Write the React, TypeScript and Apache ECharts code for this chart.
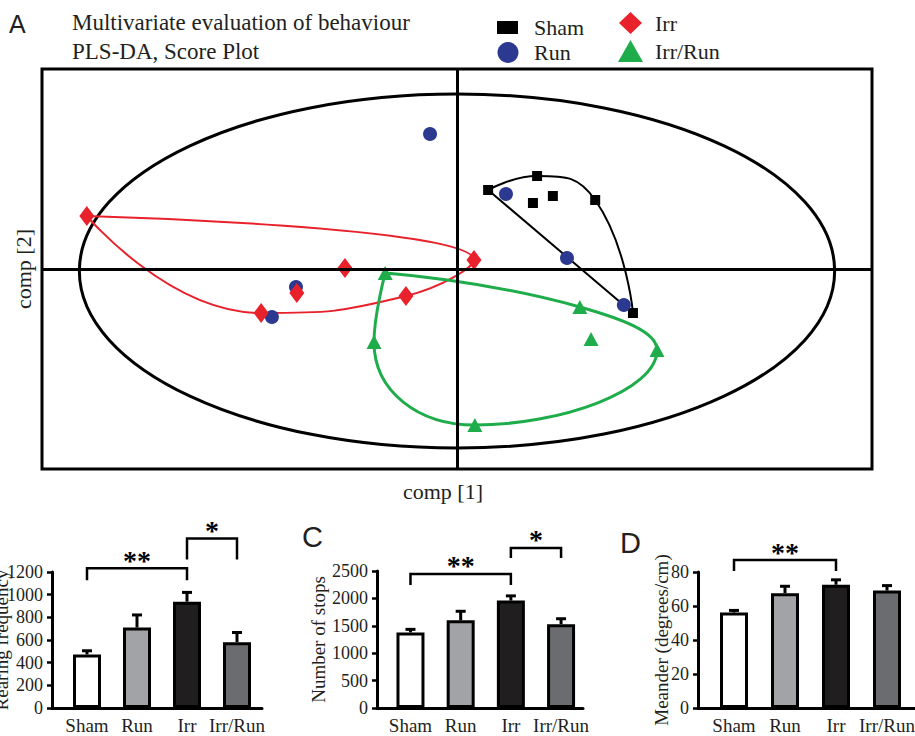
import React, { useEffect, useRef } from 'react';
import * as echarts from 'echarts';

// ---------- Panel A: PLS-DA score plot (comp[1], comp[2]) ----------
const SHAM_SCORES = [[0.75, 3.95], [1.93, 4.65], [1.83, 3.3], [2.31, 3.65], [3.33, 3.45], [4.24, -2.2]];
const RUN_SCORES = [[-0.65, 6.75], [1.18, 3.75], [2.65, 0.55], [4.02, -1.8], [-3.88, -0.9], [-4.46, -2.4]];
const IRR_SCORES = [[-8.92, 2.65], [0.41, 0.45], [-2.7, 0.05], [-3.86, -1.2], [-1.23, -1.35], [-4.72, -2.2]];
const IRRRUN_SCORES = [[-1.73, -0.2], [2.96, -1.9], [3.23, -3.5], [4.82, -4.05], [0.43, -7.8], [-2.0, -3.65]];
// order of the points that the group outlines pass through
const SHAM_HULL = [0, 1, 4, 5, 0];
const IRR_HULL = [0, 1, 4, 5, 0];
const IRRRUN_HULL = [0, 1, 3, 4, 5, 0];
// Hotelling T2 ellipse: centre x, centre y, semi-axis x, semi-axis y
const T2_ELLIPSE = [0, -0.1, 9.1, 8.85];
const SCORE_RANGE = [-10, 10];

// ---------- Panels B, C, D ----------
const CATS = ['Sham', 'Run', 'Irr', 'Irr/Run'];
const REARING_MEAN = [473, 710, 938, 581];
const REARING_SEM = [32, 111, 82, 85];
const STOPS_MEAN = [1380, 1600, 1960, 1530];
const STOPS_SEM = [55, 165, 86, 99];
const MEANDER_MEAN = [56.2, 67.5, 72.5, 69.1];
const MEANDER_SEM = [1.2, 4.1, 2.9, 2.9];
const REARING_TICKS = [0, 1200, 200];
const STOPS_TICKS = [0, 2500, 500];
const MEANDER_TICKS = [0, 80, 20];
// significance brackets: [from group, to group, bracket top, leg end]
const REARING_SIG = [[0, 2, 1232, 1127], [2, 3, 1496, 1311]];
const REARING_SIG_LABELS = ['**', '*'];
const STOPS_SIG = [[0, 2, 2446, 2245], [2, 3, 2920, 2738]];
const STOPS_SIG_LABELS = ['**', '*'];
const MEANDER_SIG = [[0, 2, 87, 80.6]];
const MEANDER_SIG_LABELS = ['**'];

const SERIF = 'Liberation Serif';
const SANS = 'Liberation Sans';
const INK = '#231f20';
const BAR_COLORS = ['#ffffff', '#a2a3a6', '#211e1f', '#6b6c6f'];

function buildPanel(k: number, xr: number[], ticks: number[], name: string, nameGap: number,
  mean: number[], sem: number[], sig: number[][], sigLabels: string[]) {
  const xAxis = {
    type: 'value', gridIndex: k, min: xr[0], max: xr[1],
    axisLine: { show: true, onZero: false, lineStyle: { color: '#000', width: 3 } },
    axisTick: { show: false }, splitLine: { show: false },
    axisLabel: {
      margin: 8, fontSize: 19, fontFamily: SERIF, color: INK,
      formatter: (v: number) => {
        const i = Math.round(v);
        return Math.abs(v - i) < 1e-6 && i >= 1 && i <= CATS.length ? CATS[i - 1] : '';
      },
    },
  };
  const yAxis = {
    type: 'value', gridIndex: k, min: ticks[0], max: ticks[1], interval: ticks[2],
    name, nameLocation: 'middle', nameRotate: 90, nameGap, nameMoveOverlap: false,
    nameTextStyle: { fontSize: 19, fontFamily: SERIF, color: INK },
    axisLine: { show: true, lineStyle: { color: '#000', width: 3 } },
    axisTick: { show: true, length: 5, lineStyle: { color: '#000', width: 2.5 } },
    splitLine: { show: false },
    axisLabel: { margin: 9, fontSize: 18, fontFamily: SERIF, color: INK, formatter: (v: number) => String(v) },
  };
  const series = [
    {
      type: 'bar', xAxisIndex: k, yAxisIndex: k, barWidth: 28, silent: true,
      itemStyle: { borderColor: '#000', borderWidth: 3 },
      data: mean.map((v, i) => ({ value: [i + 1, v], itemStyle: { color: BAR_COLORS[i] } })),
      z: 2,
    },
    {
      type: 'custom', xAxisIndex: k, yAxisIndex: k, silent: true, clip: false, z: 3,
      data: mean.map((v, i) => [i + 1, v, sem[i]]),
      renderItem: (params: any, api: any) => {
        const x = api.value(0), m = api.value(1), s = api.value(2);
        const p0 = api.coord([x, m]);
        const p1 = api.coord([x, m + s]);
        const st = { stroke: '#000', lineWidth: 3, fill: 'none' };
        return {
          type: 'group', children: [
            { type: 'line', shape: { x1: p0[0], y1: p0[1], x2: p1[0], y2: p1[1] }, style: st },
            { type: 'line', shape: { x1: p1[0] - 5, y1: p1[1], x2: p1[0] + 5, y2: p1[1] }, style: st },
          ],
        };
      },
    },
    {
      type: 'custom', xAxisIndex: k, yAxisIndex: k, silent: true, clip: false, z: 3,
      data: sig.map((s) => [s[0] + 1, s[2], s[1] + 1, s[3]]),
      renderItem: (params: any, api: any) => {
        const x1 = api.value(0), top = api.value(1), x2 = api.value(2), end = api.value(3);
        const a = api.coord([x1, end]);
        const b = api.coord([x1, top]);
        const c = api.coord([x2, top]);
        const d = api.coord([x2, end]);
        return {
          type: 'group', children: [
            {
              type: 'polyline',
              shape: { points: [a, b, c, d] },
              style: { stroke: '#000', lineWidth: 2.5, fill: 'none' },
            },
            {
              type: 'text', x: (b[0] + c[0]) / 2, y: b[1] - 8,
              style: {
                text: sigLabels[params.dataIndex], fill: '#000', fontSize: 28, fontWeight: 'bold',
                fontFamily: SERIF, align: 'center', verticalAlign: 'middle',
                textAlign: 'center', textVerticalAlign: 'middle',
              },
            },
          ],
        };
      },
    },
  ];
  return { xAxis, yAxis, series };
}

function hullLine(points: number[][], order: number[], color: string, width: number) {
  return {
    type: 'line', xAxisIndex: 0, yAxisIndex: 0, silent: true, smooth: 0.5,
    symbol: 'none', z: 2,
    lineStyle: { color, width },
    data: order.map((i) => points[i]),
  };
}

function buildOption() {
  const pB = buildPanel(1, [0.3, 4.5], REARING_TICKS, 'Rearing frequency', 41,
    REARING_MEAN, REARING_SEM, REARING_SIG, REARING_SIG_LABELS);
  const pC = buildPanel(2, [0.333, 4.437], STOPS_TICKS, 'Number of stops', 49,
    STOPS_MEAN, STOPS_SEM, STOPS_SIG, STOPS_SIG_LABELS);
  const pD = buildPanel(3, [0.294, 4.549], MEANDER_TICKS, 'Meander (degrees/cm)', 27,
    MEANDER_MEAN, MEANDER_SEM, MEANDER_SIG, MEANDER_SIG_LABELS);

  const legendText = (pad: number) => ({
    fontSize: 22, fontFamily: SERIF, color: INK, padding: [0, 0, 0, pad],
  });

  return {
    animation: false,
    textStyle: { fontFamily: SERIF },
    grid: [
      { left: 42, top: 69, width: 830, height: 400, show: true, borderColor: '#000', borderWidth: 3, backgroundColor: 'transparent', outerBoundsMode: 'none', containLabel: false },
      { left: 52, top: 572, width: 210, height: 136, outerBoundsMode: 'none', containLabel: false },
      { left: 377, top: 571, width: 206, height: 137, outerBoundsMode: 'none', containLabel: false },
      { left: 698, top: 572, width: 217, height: 136, outerBoundsMode: 'none', containLabel: false },
    ],
    legend: [
      { data: [{ name: 'Sham' }], left: 497, top: 16.5, padding: 0, itemWidth: 21, itemHeight: 13, selectedMode: false, textStyle: legendText(11) },
      { data: [{ name: 'Run' }], left: 497.5, top: 41.5, padding: 0, itemWidth: 21, itemHeight: 21, selectedMode: false, textStyle: legendText(10.5) },
      { data: [{ name: 'Irr' }], left: 619, top: 12, padding: 0, itemWidth: 23, itemHeight: 22, selectedMode: false, textStyle: legendText(8) },
      { data: [{ name: 'Irr/Run' }], left: 618, top: 40, padding: 0, itemWidth: 25, itemHeight: 22, selectedMode: false, textStyle: legendText(7) },
    ],
    xAxis: [
      {
        type: 'value', gridIndex: 0, min: SCORE_RANGE[0], max: SCORE_RANGE[1],
        axisLine: { show: false }, axisTick: { show: false }, axisLabel: { show: false }, splitLine: { show: false },
      },
      pB.xAxis, pC.xAxis, pD.xAxis,
    ],
    yAxis: [
      {
        type: 'value', gridIndex: 0, min: SCORE_RANGE[0], max: SCORE_RANGE[1],
        name: 'comp [2]', nameLocation: 'middle', nameRotate: 90, nameGap: 8, nameMoveOverlap: false,
        nameTextStyle: { fontSize: 22, fontFamily: SERIF, color: INK },
        axisLine: { show: false }, axisTick: { show: false }, axisLabel: { show: false }, splitLine: { show: false },
      },
      pB.yAxis, pC.yAxis, pD.yAxis,
    ],
    graphic: [
      { type: 'text', x: 9, y: 24, style: { text: 'A', fontSize: 25, fontFamily: SANS, fill: INK, verticalAlign: 'middle', textVerticalAlign: 'middle' } },
      { type: 'text', x: 72, y: 22, style: { text: 'Multivariate evaluation of behaviour', fontSize: 23, fontFamily: SERIF, fill: INK, verticalAlign: 'middle', textVerticalAlign: 'middle' } },
      { type: 'text', x: 72, y: 51, style: { text: 'PLS-DA, Score Plot', fontSize: 23, fontFamily: SERIF, fill: INK, verticalAlign: 'middle', textVerticalAlign: 'middle' } },
      { type: 'text', x: 443, y: 491, style: { text: 'comp [1]', fontSize: 22, fontFamily: SERIF, fill: INK, align: 'center', textAlign: 'center', verticalAlign: 'middle', textVerticalAlign: 'middle' } },
      { type: 'text', x: 302, y: 537, style: { text: 'C', fontSize: 29, fontFamily: SANS, fill: INK, verticalAlign: 'middle', textVerticalAlign: 'middle' } },
      { type: 'text', x: 620, y: 543, style: { text: 'D', fontSize: 29, fontFamily: SANS, fill: INK, verticalAlign: 'middle', textVerticalAlign: 'middle' } },
    ],
    series: [
      {
        type: 'custom', xAxisIndex: 0, yAxisIndex: 0, silent: true, z: 1,
        data: [T2_ELLIPSE],
        renderItem: (params: any, api: any) => {
          const c = api.coord([api.value(0), api.value(1)]);
          const s = api.size([api.value(2), api.value(3)]);
          return {
            type: 'ellipse',
            shape: { cx: c[0], cy: c[1], rx: s[0], ry: s[1] },
            style: { fill: 'none', stroke: '#000', lineWidth: 3 },
          };
        },
      },
      hullLine(IRR_SCORES, IRR_HULL, '#e8212a', 2),
      hullLine(IRRRUN_SCORES, IRRRUN_HULL, '#1fad4b', 3),
      hullLine(SHAM_SCORES, SHAM_HULL, '#000000', 2),
      {
        name: 'Sham', type: 'scatter', xAxisIndex: 0, yAxisIndex: 0, symbol: 'rect', symbolSize: 10,
        itemStyle: { color: '#000000', opacity: 1 }, data: SHAM_SCORES, z: 4,
        markLine: {
          silent: true, symbol: ['none', 'none'], label: { show: false },
          lineStyle: { color: '#000', width: 3, type: 'solid' },
          data: [{ xAxis: 0 }, { yAxis: 0 }],
        },
      },
      {
        name: 'Run', type: 'scatter', xAxisIndex: 0, yAxisIndex: 0, symbol: 'circle', symbolSize: 14,
        itemStyle: { color: '#2b3990', opacity: 1 }, data: RUN_SCORES, z: 4,
      },
      {
        name: 'Irr', type: 'scatter', xAxisIndex: 0, yAxisIndex: 0, symbol: 'diamond', symbolSize: [15, 20],
        itemStyle: { color: '#e8212a', opacity: 1 }, data: IRR_SCORES, z: 4,
      },
      {
        name: 'Irr/Run', type: 'scatter', xAxisIndex: 0, yAxisIndex: 0, symbol: 'triangle', symbolSize: [15, 14],
        itemStyle: { color: '#1fad4b', opacity: 1 }, data: IRRRUN_SCORES, z: 4,
      },
      ...pB.series, ...pC.series, ...pD.series,
    ],
  };
}

export default function App() {
  const ref = useRef<HTMLDivElement>(null);
  useEffect(() => {
    if (!ref.current) return;
    const chart = echarts.init(ref.current, null, { renderer: 'svg' });
    chart.setOption(buildOption() as any);
    return () => chart.dispose();
  }, []);
  return (
    <div
      ref={ref}
      style={{ position: 'fixed', left: 0, top: 0, width: 915, height: 736, background: '#fff' }}
    />
  );
}
